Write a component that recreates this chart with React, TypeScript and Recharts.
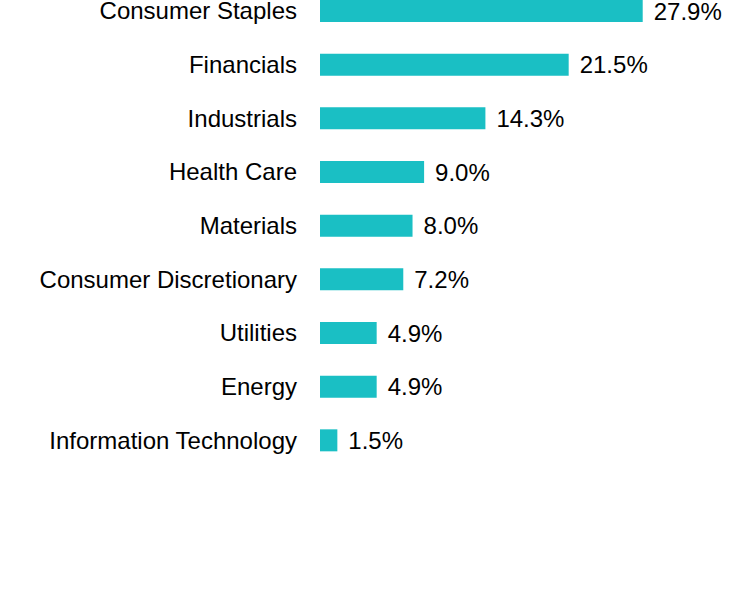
import React from 'react';
import { BarChart, Bar, XAxis, YAxis, LabelList } from 'recharts';

const sectors = [
  'Consumer Staples',
  'Financials',
  'Industrials',
  'Health Care',
  'Materials',
  'Consumer Discretionary',
  'Utilities',
  'Energy',
  'Information Technology',
];
const weights = [27.9, 21.5, 14.3, 9.0, 8.0, 7.2, 4.9, 4.9, 1.5];

const data = sectors.map((s, i) => ({ name: s, value: weights[i] }));

const FONT = '"Liberation Sans", Arial, sans-serif';

export default function App() {
  return (
    <div style={{ position: 'absolute', top: 0, left: 0, width: 732, height: 600, overflow: 'hidden', background: '#fff' }}>
      <div style={{ position: 'absolute', top: -16, left: 0 }}>
        <BarChart
          width={732}
          height={616}
          data={data}
          layout="vertical"
          margin={{ top: 0, right: 65, bottom: 133, left: 0 }}
        >
          <XAxis type="number" domain={[0, 30]} hide />
          <YAxis
            type="category"
            dataKey="name"
            width={320}
            axisLine={false}
            tickLine={false}
            tickSize={0}
            tickMargin={23}
            interval={0}
            tick={{ fill: '#000', fontSize: 24, fontFamily: FONT }}
          />
          <Bar dataKey="value" fill="#1ABFC4" barSize={22} isAnimationActive={false}>
            <LabelList
              dataKey="value"
              position="right"
              offset={11}
              formatter={(v: number) => `${v.toFixed(1)}%`}
              style={{ fill: '#000', fontSize: 24, fontFamily: FONT }}
            />
          </Bar>
        </BarChart>
      </div>
    </div>
  );
}
